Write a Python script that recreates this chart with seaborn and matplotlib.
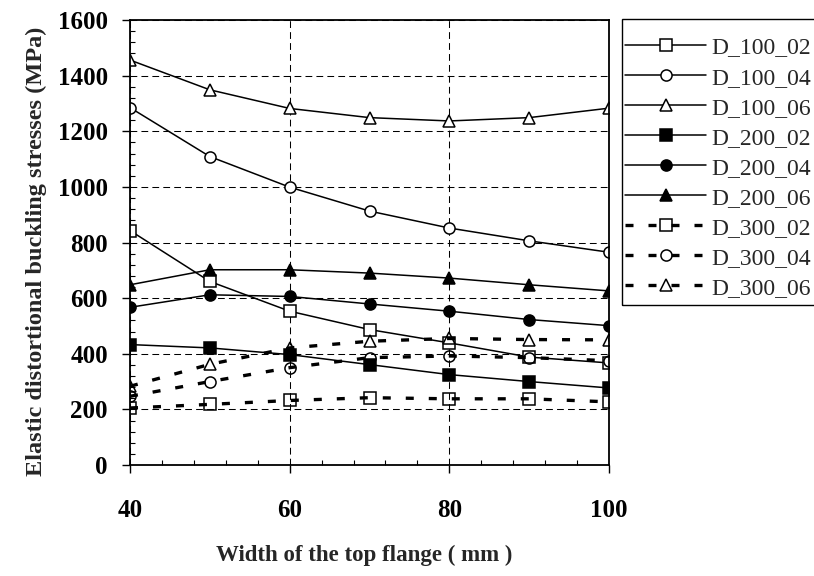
import numpy as np
import pandas as pd
import matplotlib
matplotlib.use('Agg')
import matplotlib.pyplot as plt
import seaborn as sns
from matplotlib.ticker import MultipleLocator
from matplotlib.patches import Rectangle

# ---- data ----
width = [40, 50, 60, 70, 80, 90, 100]
d100_02 = [843, 660, 553, 487, 439, 388, 367]
d100_04 = [1285, 1109, 999, 913, 852, 806, 765]
d100_06 = [1456, 1349, 1282, 1249, 1237, 1249, 1283]
d200_02 = [433, 421, 397, 361, 325, 300, 277]
d200_04 = [567, 612, 606, 579, 553, 523, 501]
d200_06 = [648, 702, 702, 690, 672, 648, 626]
d300_02 = [205, 218, 232, 242, 238, 238, 227]
d300_04 = [247, 300, 350, 386, 392, 386, 375]
d300_06 = [283, 362, 421, 445, 455, 451, 450]
labels = ["D_100_02", "D_100_04", "D_100_06", "D_200_02", "D_200_04",
          "D_200_06", "D_300_02", "D_300_04", "D_300_06"]
xticks = [40, 60, 80, 100]
xtick_labels = ["40", "60", "80", "100"]
yticks = [0, 200, 400, 600, 800, 1000, 1200, 1400, 1600]
ytick_labels = ["0", "200", "400", "600", "800", "1000", "1200", "1400", "1600"]

series = [d100_02, d100_04, d100_06, d200_02, d200_04, d200_06, d300_02, d300_04, d300_06]

sns.set_style("ticks")
plt.rcParams['font.family'] = ['Liberation Serif', 'DejaVu Serif']

W, H = 814, 576
fig = plt.figure(figsize=(W / 100, H / 100), dpi=100)
ax = fig.add_axes([130 / W, 1 - 465 / H, (609 - 130) / W, (465 - 20) / H])

markers = ['s', 'o', '^'] * 3
for i, (lab, vals) in enumerate(zip(labels, series)):
    grp = i // 3
    filled = grp == 1
    dashed = grp == 2
    mk = markers[i]
    ms = 8.5 if mk == '^' else 8
    if filled:
        fc = 'black'
    elif dashed:
        fc = 'none'
    else:
        fc = 'white'
    sns.lineplot(x=width, y=vals, ax=ax, color='black', marker=mk,
                 markersize=ms, markerfacecolor=fc, markeredgecolor='black',
                 markeredgewidth=1.1, linewidth=2.4 if dashed else 1.1,
                 label=lab, errorbar=None)
    line = ax.lines[-1]
    if dashed:
        line.set_linestyle((0, (2.4, 4.5)))
        line.set_dash_capstyle('butt')

ax.set_xlim(40, 100)
ax.set_ylim(0, 1600)
ax.set_xticks(xticks, xtick_labels, fontweight='bold', fontsize=18)
ax.set_yticks(yticks, ytick_labels, fontweight='bold', fontsize=18)
ax.xaxis.set_minor_locator(MultipleLocator(4))
ax.yaxis.set_minor_locator(MultipleLocator(40))
ax.tick_params(which='major', direction='out', length=6, width=1, colors='black')
ax.tick_params(axis='x', which='major', pad=18.5)
ax.tick_params(axis='y', which='major', pad=10)
ax.tick_params(which='minor', direction='in', length=3.6, width=0.8, colors='black')
ax.set_xlabel("")
ax.set_ylabel("")

ax.grid(True, which='major', color='black', linestyle=(0, (6.5, 4)), linewidth=0.75)
ax.set_axisbelow(True)
for sp in ax.spines.values():
    sp.set_visible(True)
    sp.set_color('black')
    sp.set_linewidth(1.3)

fig.text(36 / W, 1 - 251 / H, "Elastic distortional buckling stresses (MPa)",
         rotation=90, ha='center', va='center', fontweight='bold', fontsize=17.5)
fig.text(364 / W, 1 - 555 / H, "Width of the top flange ( mm )",
         ha='center', va='center', fontweight='bold', fontsize=16.5)

# legend
handles, labs = ax.get_legend_handles_labels()
leg = ax.legend(handles, labs, loc='upper left',
                bbox_to_anchor=(625 / W, 1 - 37 / H), bbox_transform=fig.transFigure,
                frameon=False, fontsize=17, handlelength=3.45, handletextpad=0.2,
                borderpad=0, borderaxespad=0, labelspacing=0.36)
fig.patches.append(Rectangle((622 / W, 1 - 305 / H), 0.5, (305 - 19) / H,
                             transform=fig.transFigure, fill=False,
                             edgecolor='black', linewidth=1, zorder=5))

fig.savefig("out.png", dpi=100)
